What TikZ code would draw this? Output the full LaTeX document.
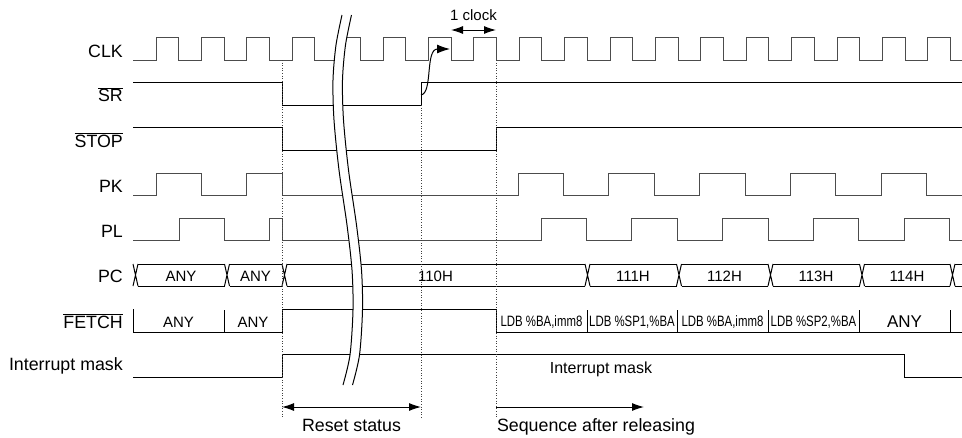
\documentclass[tikz,border=0pt]{standalone}
\usepackage{fontspec}
\setmainfont{Liberation Sans}
\newfontfamily\narrowfont[FakeStretch=0.76]{Liberation Sans}
\usetikzlibrary{arrows.meta}

\tikzset{
  wave/.style={line width=1pt, black!70},
  line/.style={line width=1pt},
  guide/.style={line width=0.8pt, black!75, dash pattern=on 1pt off 1.6pt},
  sigName/.style={anchor=base east, inner sep=0pt, font=\fontsize{17.8}{20}\selectfont},
  busText/.style={anchor=base, inner sep=0pt, font=\fontsize{15}{18}\selectfont},
  insText/.style={anchor=base, inner sep=0pt, font=\narrowfont\fontsize{15}{18}\selectfont},
  span/.style={line width=1pt, {Latex[length=12pt,width=8pt]}-{Latex[length=12pt,width=8pt]}},
}

\begin{document}
\begin{tikzpicture}[x=1pt, y=-1pt]
\useasboundingbox (0,0) rectangle (962,437);

% signal names
\node[sigName] (clk) at (123,57) {CLK};
\node[sigName] (sr) at (123,101.7) {$\overline{\hbox{SR}}$};
\node[sigName] (stop) at (123,147) {$\overline{\hbox{STOP}}$};
\node[sigName] (pk) at (123,192) {PK};
\node[sigName] (pl) at (123,237) {PL};
\node[sigName] (pc) at (123,282) {PC};
\node[sigName] (fetch) at (123,328) {$\overline{\hbox{FETCH}}$};
\node[sigName] (imask) at (123,370) {Interrupt mask};

% CLK
\draw[wave] (133,60) \foreach \x in {156,201.4,246.8,292.2} {-- (\x,60) -- (\x,37) -- (\x+22.7,37) -- (\x+22.7,60)}
  -- (340,60) -- (340,37) -- (360,37) -- (360,60)
  \foreach \x in {383,428.4,...,930} {-- (\x,60) -- (\x,37) -- (\x+22.7,37) -- (\x+22.7,60)} -- (962,60);

% SR, STOP
\draw[line] (133,82) -- (282,82) -- (282,105) -- (421,105) -- (421,82) -- (962,82);
\draw[line] (133,127) -- (282,127) -- (282,150) -- (496,150) -- (496,127) -- (962,127);

% PK, PL
\draw[wave] (133,195) -- (156,195) -- (156,173) -- (201.4,173) -- (201.4,195) -- (246.8,195) -- (246.8,173) -- (282,173) -- (282,195)
  \foreach \x in {518,608.8,...,890} {-- (\x,195) -- (\x,173) -- (\x+45.4,173) -- (\x+45.4,195)} -- (962,195);
\draw[wave] (133,240) -- (179,240) -- (179,218) -- (224,218) -- (224,240) -- (269.5,240) -- (269.5,218) -- (282,218) -- (282,240)
  \foreach \x in {541,631.8,...,910} {-- (\x,240) -- (\x,218) -- (\x+45.4,218) -- (\x+45.4,240)} -- (962,240);

% PC bus
\foreach \t in {135.5,227,284.5,587.5,679,770.5,862,952.5}
  \draw[line] (\t-2.5,264) -- (\t+2.5,286) (\t-2.5,286) -- (\t+2.5,264);
\foreach \a/\b in {135.5/227,227/284.5,284.5/587.5,587.5/679,679/770.5,770.5/862,862/952.5,952.5/964.5}
  \draw[line] (\a+2.5,264) -- (\b-2.5,264) (\a+2.5,286) -- (\b-2.5,286);
\node[busText] (pc1) at (181,281.5) {ANY};
\node[busText] (pc2) at (255.5,281.5) {ANY};
\node[busText] (pc3) at (435.5,281.5) {110H};
\node[busText] (pc4) at (633,281.5) {111H};
\node[busText] (pc5) at (724.5,281.5) {112H};
\node[busText] (pc6) at (816,281.5) {113H};
\node[busText] (pc7) at (907,281.5) {114H};

% FETCH
\draw[line] (133,309) -- (133,332) -- (282,332) -- (282,309) -- (496,309) -- (496,332) -- (962,332);
\foreach \x in {224,587,677,768,859,950}
  \draw[line] (\x,310) -- (\x,332);
\node[busText] (f1) at (178.5,327.5) {ANY};
\node[busText] (f2) at (253,327.5) {ANY};
\node[insText] (f3) at (541.5,326) {LDB \%BA,imm8};
\node[insText] (f4) at (632,326) {LDB \%SP1,\%BA};
\node[insText] (f5) at (722.5,326) {LDB \%BA,imm8};
\node[insText] (f6) at (813.5,326) {LDB \%SP2,\%BA};
\node[busText, font=\fontsize{17}{18}\selectfont] (f7) at (904.5,327) {ANY};

% interrupt mask
\draw[line] (133,377) -- (282,377) -- (282,354) -- (904,354) -- (904,377) -- (962,377);
\node[busText, font=\fontsize{16}{18}\selectfont] (imtxt) at (601,373) {Interrupt mask};

% time break
\fill[white] plot[smooth] coordinates {(342,15) (336,45) (333,80) (334,120) (339,170) (347,225) (352,270) (353,310) (350,355) (343,385)}
  -- plot[smooth] coordinates {(352.5,385) (359.5,355) (362.5,310) (361.5,270) (356.5,225) (348.5,170) (343.5,120) (342.5,80) (345.5,45) (351.5,15)} -- cycle;
\draw[line] plot[smooth] coordinates {(342,15) (336,45) (333,80) (334,120) (339,170) (347,225) (352,270) (353,310) (350,355) (343,385)};
\draw[line] plot[smooth] coordinates {(351.5,15) (345.5,45) (342.5,80) (343.5,120) (348.5,170) (356.5,225) (361.5,270) (362.5,310) (359.5,355) (352.5,385)};

% timing guides
\draw[guide] (282,60) -- (282,418);
\draw[guide] (421,105) -- (421,418);
\draw[guide] (496,60) -- (496,418);

% 1 clock
\coordinate (clkA) at (451,30);
\coordinate (clkB) at (496,30);
\draw[span] (clkA) -- (clkB);
\node[busText] (oneclk) at (473.5,20.7) {1 clock};
\coordinate (srUp) at (421,95);
\coordinate (clkEdge) at (450,49);
\draw[line, -{Latex[length=13pt,width=9pt]}] (srUp) .. controls (433,93) and (425,49) .. (clkEdge);

% periods
\coordinate (rstA) at (282,407);
\coordinate (rstB) at (421,407);
\draw[span] (rstA) -- (rstB);
\node[sigName, anchor=base] (rst) at (351.5,431.5) {Reset status};
\coordinate (seqA) at (496,407);
\coordinate (seqB) at (644,407);
\draw[line, -{Latex[length=12pt,width=8pt]}] (seqA) -- (seqB);
\node[sigName, anchor=base] (seq) at (596,431.5) {Sequence after releasing};
\end{tikzpicture}
\end{document}
